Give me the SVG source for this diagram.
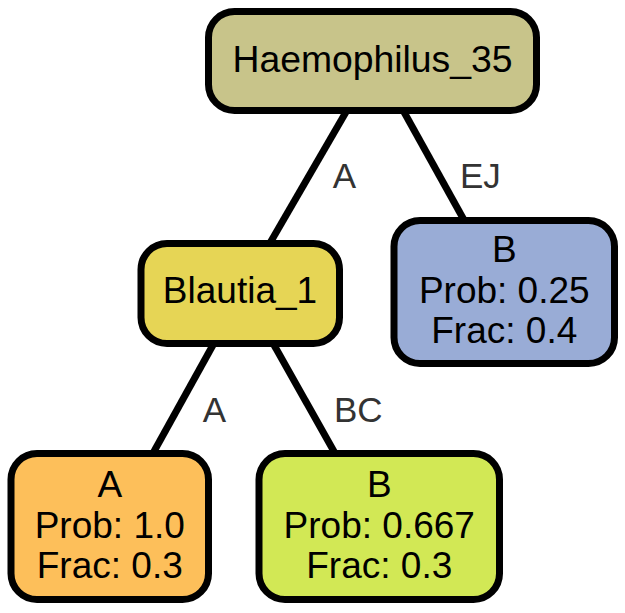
<svg xmlns="http://www.w3.org/2000/svg" width="625" height="613" viewBox="0 0 625 613">
<style>
.node rect{stroke:#000;stroke-width:7}
.node text{font-family:"Liberation Sans",Arial,Helvetica,sans-serif;font-size:37px;fill:#000;text-anchor:middle}
.edges line{stroke:#000;stroke-width:7}
.edges text{font-family:"Liberation Sans",Arial,Helvetica,sans-serif;font-size:35px;fill:#333}
</style>
<rect width="625" height="613" fill="#fff"/>
<g class="edges" id="edges">
<line x1="346" y1="112" x2="270" y2="243"/>
<line x1="404" y1="112" x2="464" y2="220"/>
<line x1="213" y1="345" x2="152" y2="455"/>
<line x1="274" y1="345" x2="336" y2="455"/>
<text x="344.5" y="188" text-anchor="middle">A</text>
<text x="460" y="188">EJ</text>
<text x="214.5" y="422" text-anchor="middle">A</text>
<text x="334" y="422">BC</text>
</g>
<g class="node" id="node_haemophilus">
<rect x="208.5" y="11.5" width="328" height="99" rx="26" fill="#c8c48a"/>
<text x="372.5" y="72" textLength="280" lengthAdjust="spacingAndGlyphs">Haemophilus_35</text>
</g>
<g class="node" id="node_blautia">
<rect x="141" y="243.5" width="198.5" height="100" rx="26" fill="#e6d555"/>
<text x="240" y="303">Blautia_1</text>
</g>
<g class="node" id="node_leaf_A">
<rect x="11" y="453.5" width="197.5" height="146" rx="26" fill="#fdbf5a"/>
<text x="109.75" y="497">A</text>
<text x="109.75" y="538">Prob: 1.0</text>
<text x="109.75" y="578">Frac: 0.3</text>
</g>
<g class="node" id="node_leaf_B1">
<rect x="259" y="453.5" width="240.5" height="146" rx="26" fill="#d2e855"/>
<text x="379.25" y="497">B</text>
<text x="379.25" y="538">Prob: 0.667</text>
<text x="379.25" y="578">Frac: 0.3</text>
</g>
<g class="node" id="node_leaf_B2">
<rect x="394" y="220.5" width="220.5" height="143" rx="26" fill="#99acd6"/>
<text x="504.25" y="262">B</text>
<text x="504.25" y="303">Prob: 0.25</text>
<text x="504.25" y="343">Frac: 0.4</text>
</g>
</svg>
